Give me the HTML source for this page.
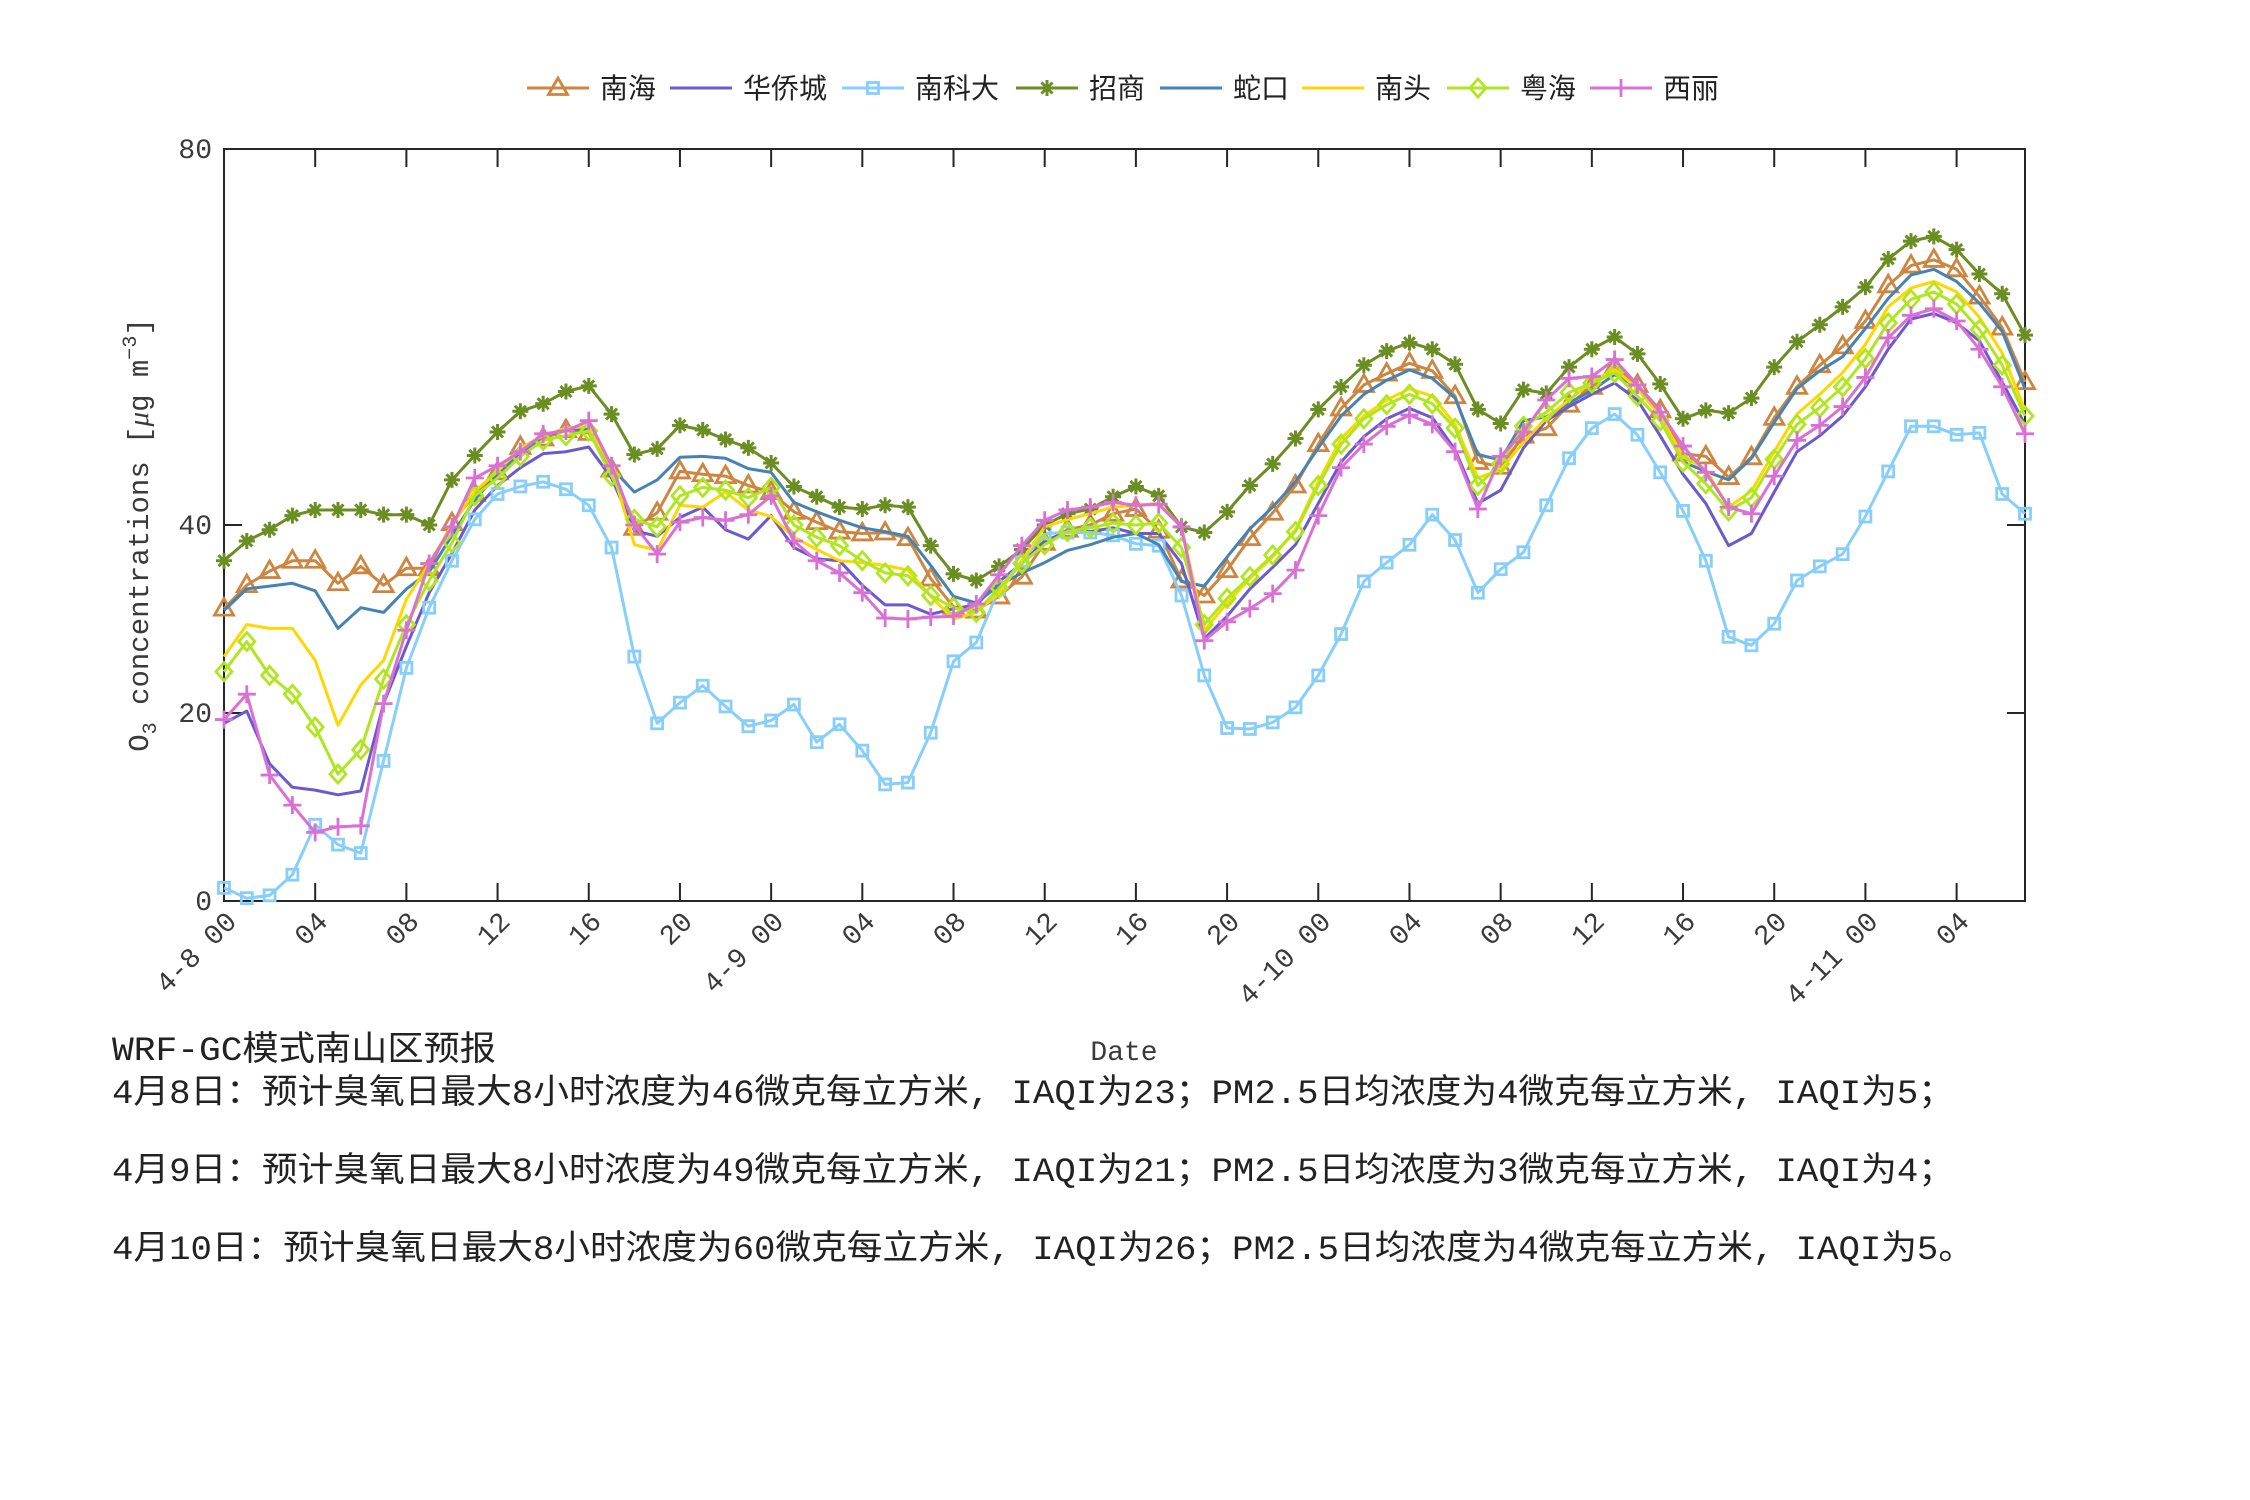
<!DOCTYPE html>
<html><head><meta charset="utf-8">
<style>
html,body{margin:0;padding:0;background:#fff;}
svg{display:block;}
</style></head>
<body>
<svg id="s" xmlns="http://www.w3.org/2000/svg" width="2250" height="1500" viewBox="0 0 2250 1500">
<rect width="2250" height="1500" fill="#fff"/>
<g id="plot"></g>
<g font-family="'Liberation Mono','Noto Sans CJK SC',monospace" fill="#222">
<text x="112" y="1060" font-size="34" textLength="384" lengthAdjust="spacingAndGlyphs">WRF-GC模式南山区预报</text>
<text x="112" y="1103" font-size="34" textLength="1842" lengthAdjust="spacingAndGlyphs">4月8日：预计臭氧日最大8小时浓度为46微克每立方米, IAQI为23；PM2.5日均浓度为4微克每立方米, IAQI为5；</text>
<text x="112" y="1181" font-size="34" textLength="1842" lengthAdjust="spacingAndGlyphs">4月9日：预计臭氧日最大8小时浓度为49微克每立方米, IAQI为21；PM2.5日均浓度为3微克每立方米, IAQI为4；</text>
<text x="112" y="1259" font-size="34" textLength="1862" lengthAdjust="spacingAndGlyphs">4月10日：预计臭氧日最大8小时浓度为60微克每立方米, IAQI为26；PM2.5日均浓度为4微克每立方米, IAQI为5。</text>
</g>
</svg>
<script>
var NS="http://www.w3.org/2000/svg";
var g=document.getElementById("plot");
function el(t,a,p){var e=document.createElementNS(NS,t);for(var k in a)e.setAttribute(k,a[k]);(p||g).appendChild(e);return e;}
var L=224,R=2025,T=149,B=901;
function X(h){return L+h*(R-L)/79;}
function Y(v){return B-v*(B-T)/80;}
var D={
nh:[31.1,33.6,35.1,36.2,36.2,33.8,35.6,33.6,35.4,35.4,40.2,43.3,45.6,48.3,49.2,50.1,49.8,45.9,39.7,41.3,45.7,
45.4,45.2,44.2,43.5,41.4,40.3,39.3,39.1,39.2,38.6,34.3,31.3,30.9,32.4,34.5,38.1,39.5,40.0,41.2,41.7,
39.4,34.1,32.5,35.2,38.6,41.3,44.2,48.6,52.4,54.9,56.1,57.2,56.4,53.7,46.7,46.2,49.5,50.3,52.8,54.7,
56.8,54.9,52.2,47.6,47.3,45.1,47.2,51.4,54.7,57.0,59.0,61.7,65.5,67.6,68.2,67.2,64.3,61.0,55.2],
hqc:[18.9,20.2,14.6,12.1,11.8,11.3,11.7,21.0,27.1,32.8,37.0,41.6,44.2,46.1,47.6,47.8,48.3,45.0,39.4,38.8,40.8,
41.9,39.5,38.5,41.0,37.6,36.4,36.2,33.6,31.5,31.5,30.5,31.1,31.5,34.0,35.9,38.3,39.3,39.3,39.7,39.1,
39.1,35.9,27.9,30.3,33.2,35.5,37.9,42.3,46.7,49.4,51.3,52.4,51.4,48.0,42.3,43.7,48.2,51.1,52.6,53.9,
55.1,53.3,49.5,45.4,42.3,37.8,39.1,43.5,47.8,49.5,51.6,54.7,58.7,61.9,62.5,61.5,59.6,55.2,50.7],
nkd:[1.4,0.3,0.6,2.8,8.1,6.0,5.1,14.9,24.8,31.2,36.2,40.6,43.3,44.1,44.6,43.8,42.1,37.6,26.0,18.9,21.1,
22.9,20.7,18.6,19.2,20.9,16.9,18.8,16.0,12.4,12.6,17.9,25.5,27.5,33.2,36.2,39.1,39.2,39.2,38.9,38.0,
37.8,32.5,24.0,18.4,18.3,19.0,20.6,24.0,28.4,34.0,36.0,37.9,41.1,38.4,32.8,35.3,37.1,42.1,47.1,50.3,
51.8,49.6,45.6,41.5,36.2,28.1,27.2,29.5,34.1,35.6,36.9,40.9,45.7,50.5,50.5,49.6,49.8,43.3,41.2],
zs:[36.2,38.3,39.5,41.0,41.6,41.6,41.6,41.1,41.1,40.0,44.8,47.4,49.9,52.1,52.9,54.2,54.8,51.8,47.5,48.1,50.6,
50.1,49.1,48.2,46.6,44.1,43.0,41.9,41.7,42.1,41.9,37.8,34.8,34.1,35.6,37.4,40.0,41.2,41.7,43.0,44.1,
43.1,39.8,39.2,41.4,44.2,46.5,49.2,52.3,54.7,57.0,58.5,59.4,58.7,57.1,52.3,50.8,54.4,54.0,56.8,58.7,
60.0,58.2,55.0,51.3,52.2,51.9,53.5,56.8,59.5,61.3,63.2,65.3,68.3,70.2,70.7,69.3,66.7,64.6,60.2],
sk:[30.9,33.2,33.5,33.8,33.0,29.0,31.2,30.7,33.2,35.0,38.9,42.7,45.4,47.6,49.5,50.1,50.2,46.1,43.5,44.8,47.2,
47.3,47.1,46.0,45.6,42.4,41.4,40.5,39.7,39.3,38.8,35.7,32.4,31.7,33.6,34.9,36.0,37.3,37.9,38.7,39.1,
37.9,34.0,33.5,36.6,39.6,41.9,44.6,48.2,51.6,53.9,55.4,56.5,55.6,53.5,47.5,46.9,51.1,51.5,53.0,54.3,
56.0,54.7,51.8,46.7,45.7,44.8,47.1,50.9,54.5,56.4,57.9,60.9,64.1,66.6,67.2,65.9,63.6,60.6,54.5],
nt:[26.0,29.4,29.0,29.0,25.6,18.7,23.0,25.6,32.1,35.9,40.0,43.6,45.7,48.2,49.5,50.3,50.5,46.1,37.9,37.3,42.1,
41.9,43.5,41.6,40.9,38.7,37.4,36.2,36.0,35.7,35.2,32.4,30.0,30.7,32.8,36.2,39.8,40.6,41.2,41.9,42.1,
42.3,39.8,28.8,31.7,34.3,36.6,39.5,44.6,49.2,51.6,53.3,54.5,53.7,50.7,45.0,45.9,48.8,51.4,53.3,55.2,
56.6,54.5,51.6,47.3,45.9,41.9,43.6,47.8,51.8,53.9,56.2,59.2,63.2,65.2,65.9,64.8,62.1,58.3,52.2],
yh:[24.4,27.6,24.0,22.0,18.5,13.5,16.1,23.6,29.4,34.1,38.1,43.1,45.0,47.3,49.0,49.5,50.0,45.2,40.6,39.8,43.1,
44.0,43.7,42.9,44.0,40.0,38.7,37.8,36.2,34.9,34.6,32.5,31.2,30.7,33.3,35.9,37.9,39.3,39.7,40.2,40.0,
40.2,37.6,29.4,32.2,34.5,36.8,39.3,44.2,48.6,51.3,52.8,53.9,52.9,50.3,44.2,46.5,50.5,52.0,54.1,55.1,
56.2,53.7,51.1,46.7,44.4,41.5,42.9,47.0,50.7,52.5,54.7,57.7,61.5,64.0,64.8,63.5,60.8,57.0,51.6],
xl:[19.3,22.0,13.4,10.2,7.3,7.9,8.0,21.0,28.8,35.9,39.8,45.0,46.3,47.8,49.7,50.0,51.1,46.3,40.0,36.9,40.3,
40.8,40.5,41.1,43.1,38.3,36.2,34.9,32.8,30.1,30.0,30.2,30.3,31.6,34.7,37.8,40.5,41.6,41.9,42.4,42.1,
42.2,39.8,27.7,29.7,31.1,32.7,35.2,41.0,46.1,48.6,50.5,51.7,50.7,47.8,41.7,47.3,49.9,53.3,55.6,55.8,
57.6,54.9,52.0,48.4,45.6,41.9,41.2,45.2,49.0,50.6,52.6,55.7,59.9,62.3,63.0,61.7,58.7,54.7,49.7]
};
var S=[
{k:"nh",n:"南海",c:"#cd853f",m:"tri"},
{k:"hqc",n:"华侨城",c:"#6a5acd",m:""},
{k:"nkd",n:"南科大",c:"#87cefa",m:"sq"},
{k:"zs",n:"招商",c:"#6b8e23",m:"ast"},
{k:"sk",n:"蛇口",c:"#4682b4",m:""},
{k:"nt",n:"南头",c:"#ffd700",m:""},
{k:"yh",n:"粤海",c:"#b0e620",m:"dia"},
{k:"xl",n:"西丽",c:"#da70d6",m:"plus"}
];
function marker(m,x,y,c,p){
 var sw=2.8;
 if(m=="tri"){el("polygon",{points:(x)+","+(y-10)+" "+(x-9.5)+","+(y+6.5)+" "+(x+9.5)+","+(y+6.5),fill:"none",stroke:c,"stroke-width":sw},p);}
 else if(m=="sq"){el("rect",{x:x-5.5,y:y-5.5,width:11,height:11,fill:"none",stroke:c,"stroke-width":sw},p);}
 else if(m=="dia"){el("polygon",{points:x+","+(y-9)+" "+(x+8)+","+y+" "+x+","+(y+9)+" "+(x-8)+","+y,fill:"none",stroke:c,"stroke-width":sw},p);}
 else if(m=="plus"){el("path",{d:"M"+(x-9)+" "+y+"H"+(x+9)+"M"+x+" "+(y-9)+"V"+(y+9),stroke:c,"stroke-width":sw,fill:"none"},p);}
 else if(m=="ast"){el("path",{d:"M"+(x-8)+" "+y+"H"+(x+8)+"M"+x+" "+(y-8)+"V"+(y+8)+"M"+(x-5.5)+" "+(y-5.5)+"L"+(x+5.5)+" "+(y+5.5)+"M"+(x-5.5)+" "+(y+5.5)+"L"+(x+5.5)+" "+(y-5.5),stroke:c,"stroke-width":3,fill:"none"},p);
  el("circle",{cx:x,cy:y,r:4,fill:c},p);}
}
el("rect",{x:L,y:T,width:R-L,height:B-T,fill:"none",stroke:"#262626","stroke-width":2});
for(var h=0;h<=76;h+=4){var x=X(h);el("path",{d:"M"+x+" "+B+"v-18M"+x+" "+T+"v18",stroke:"#262626","stroke-width":2});}
[0,20,40,80].forEach(function(v){var y=Y(v);el("path",{d:"M"+L+" "+y+"h18M"+R+" "+y+"h-18",stroke:"#262626","stroke-width":2});
 var t=el("text",{x:L-12,y:y+9,"font-size":28,"text-anchor":"end",fill:"#3a3a3a","font-family":"'Liberation Mono',monospace"});t.textContent=v;});
var lab={0:"4-8 00",24:"4-9 00",48:"4-10 00",72:"4-11 00"};
for(var h=0;h<=76;h+=4){var s=lab[h]||(h%24<10?"0":"")+(h%24);var x=X(h)+14,y=B+22;
 var t=el("text",{x:x,y:y,"font-size":28,"text-anchor":"end",fill:"#3a3a3a","font-family":"'Liberation Mono',monospace",transform:"rotate(-45 "+x+" "+y+")"});t.textContent=s;}
var t=el("text",{x:1124,y:1060,"font-size":28,"text-anchor":"middle",fill:"#3a3a3a","font-family":"'Liberation Mono',monospace"});t.textContent="Date";
var yl=el("text",{x:0,y:0,"font-size":29,"text-anchor":"middle",fill:"#3a3a3a","font-family":"'Liberation Mono','DejaVu Sans',monospace",transform:"translate(148 535) rotate(-90)"});
yl.innerHTML='O<tspan font-size="20" dy="8">3</tspan><tspan dy="-8"> concentrations [</tspan><tspan font-family="\'Liberation Serif\',serif" font-style="italic">μ</tspan><tspan>g m</tspan><tspan font-size="20" dy="-12">−3</tspan><tspan dy="12">]</tspan>';
S.forEach(function(s){var d=D[s.k];var pts=d.map(function(v,i){return X(i).toFixed(1)+","+Y(v).toFixed(1);}).join(" ");
 el("polyline",{points:pts,fill:"none",stroke:s.c,"stroke-width":3,"stroke-linejoin":"round"});
 if(s.m){d.forEach(function(v,i){marker(s.m,X(i),Y(v),s.c);});}
});
var lx=[527,670,842,1016,1160,1302,1447,1590];
S.forEach(function(s,i){var x=lx[i],y=88;
 el("line",{x1:x,y1:y,x2:x+62,y2:y,stroke:s.c,"stroke-width":3});
 if(s.m)marker(s.m,x+31,y,s.c);
 var t=el("text",{x:x+73,y:y+10,"font-size":28,fill:"#222","font-family":"'Liberation Sans','Noto Sans CJK SC',sans-serif"});t.textContent=s.n;});
</script>
</body></html>
